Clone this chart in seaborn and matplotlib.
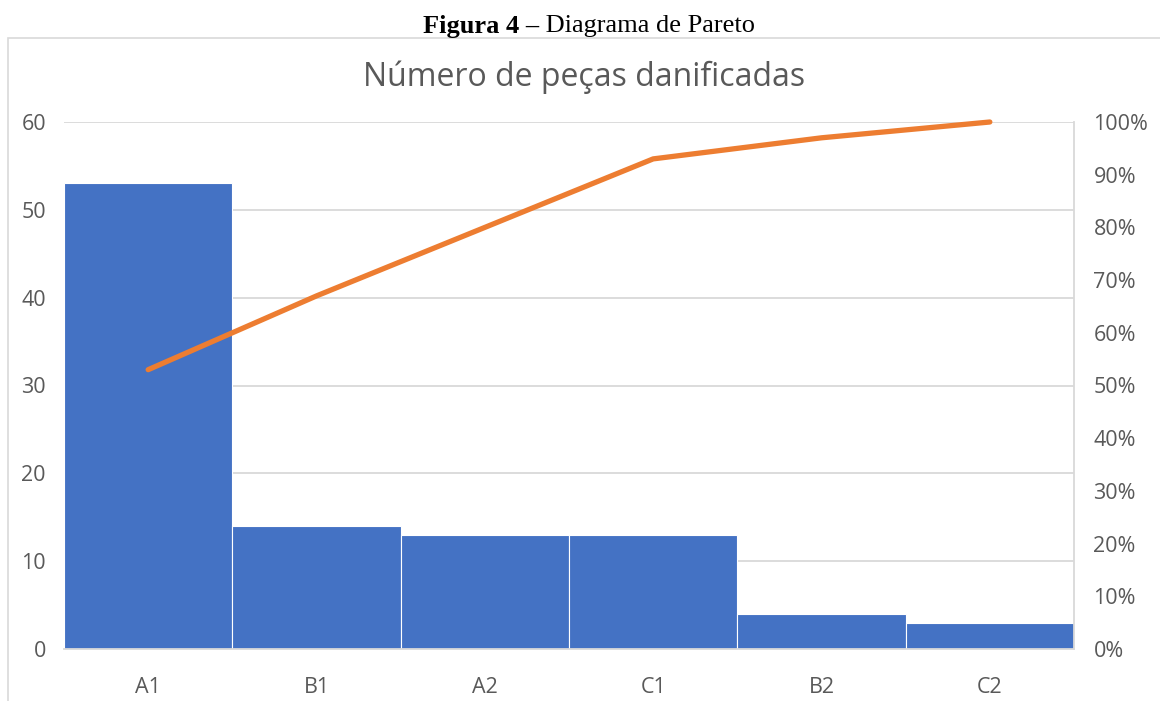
import matplotlib
matplotlib.use("Agg")
import matplotlib.pyplot as plt
import seaborn as sns
import numpy as np
import pandas as pd
from matplotlib.patches import Rectangle
from matplotlib.ticker import PercentFormatter

categories = ["A1", "B1", "A2", "C1", "B2", "C2"]
counts = [53, 14, 13, 13, 4, 3]
cumulative_pct = [53, 67, 80, 93, 97, 100]
left_ticks = [0, 10, 20, 30, 40, 50, 60]
right_ticks = [0, 10, 20, 30, 40, 50, 60, 70, 80, 90, 100]

sns.set_theme(style="white")
plt.rcParams['font.family'] = ['Open Sans', 'DejaVu Sans']

fig = plt.figure(figsize=(11.6, 7.01), dpi=100)
ax = fig.add_axes([64/1160, 1-649/701, (1074-64)/1160, (649-122)/701])

df = pd.DataFrame({"cat": categories, "n": counts})
sns.barplot(data=df, x="cat", y="n", color="#4472C4", width=1.0, saturation=1,
            edgecolor="white", linewidth=0.8, ax=ax, zorder=2)
ax.set_ylim(0, 60)
ax.set_xlim(-0.5, 5.5)
ax.set_yticks(left_ticks)
ax.yaxis.grid(True, color="#D9D9D9", linewidth=1.3, zorder=0)
ax.set_axisbelow(True)
ax.set_xlabel("")
ax.set_ylabel("")
for s in ["top", "left"]:
    ax.spines[s].set_visible(False)
ax.spines["bottom"].set_color("#D9D9D9")
ax.spines["bottom"].set_linewidth(1.3)
ax.spines["right"].set_color("#D9D9D9")
ax.spines["right"].set_linewidth(1.3)
ax.tick_params(axis="y", length=0, pad=13, labelsize=15.5, labelcolor="#595959")
ax.tick_params(axis="x", length=0, pad=20, labelsize=15.5, labelcolor="#595959")

ax2 = ax.twinx()
sns.lineplot(x=np.arange(len(categories)), y=cumulative_pct, color="#ED7D31",
             linewidth=3.8, ax=ax2, zorder=3)
for ln in ax2.lines:
    ln.set_clip_on(False)
    ln.set_solid_capstyle("round")
ax2.set_ylim(0, 100)
ax2.set_yticks(right_ticks)
ax2.yaxis.set_major_formatter(PercentFormatter(decimals=0))
ax2.tick_params(axis="y", length=0, pad=14, labelsize=15.5, labelcolor="#595959")
for s in ["top", "left", "bottom", "right"]:
    ax2.spines[s].set_visible(False)
ax2.set_xlim(-0.5, 5.5)

fig.text(584/1160, 1-77/701, "Número de peças danificadas", ha="center", va="center",
         fontsize=23, color="#595959")

fig.patches.append(Rectangle((8/1160, -0.01), 1.1, 1-38/701 + 0.01, transform=fig.transFigure,
                             fill=False, edgecolor="#D9D9D9", linewidth=1.2))

fig.text(539/1160, 1-26/701, "Figura 4 –", ha="right", va="center",
         fontsize=19, fontweight="bold", family="Liberation Serif", color="black")
fig.text(539/1160, 1-26/701, " Diagrama de Pareto", ha="left", va="center",
         fontsize=19, family="Liberation Serif", color="black")

fig.savefig("out.png", dpi=100)
